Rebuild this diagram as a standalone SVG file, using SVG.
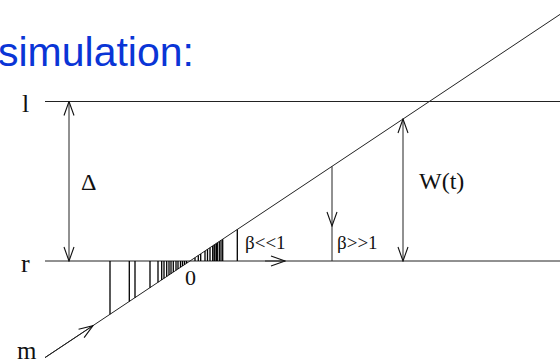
<svg xmlns="http://www.w3.org/2000/svg" width="560" height="364" viewBox="0 0 560 364">
<style>
.ln{stroke:#222;stroke-width:1;fill:none}
.h{stroke:#000;stroke-width:1.3;fill:none}
.t{font-family:"Liberation Serif","Times New Roman",serif;fill:#111}
.title{font-family:"Liberation Sans",Arial,sans-serif;fill:#0a35d6;font-size:41px}
</style>
<defs>
<marker id="ah" viewBox="0 0 16 12" refX="15" refY="6" markerWidth="16" markerHeight="12" markerUnits="userSpaceOnUse" orient="auto-start-reverse">
<path d="M1,1 L15,6 L1,11" fill="none" stroke="#111" stroke-width="1.1"/>
</marker>
</defs>
<rect width="560" height="364" fill="#fff"/>
<text class="title" x="-2" y="66">simulation:</text>
<g id="connectors">
<path class="ln" d="M45,101.5 H560"/>
<path class="ln" d="M45,261 H560"/>
<path class="ln" d="M45,357.6 L560,14.4"/>
<path class="ln" d="M45,357.6 L93,325.7" marker-end="url(#ah)"/>
<path class="ln" d="M265,261 H285" marker-end="url(#ah)"/>
<path class="ln" d="M69,101.5 V261" marker-start="url(#ah)" marker-end="url(#ah)"/>
<path class="ln" d="M403,119 V261" marker-start="url(#ah)" marker-end="url(#ah)"/>
<path class="ln" d="M332,166.4 V226" marker-end="url(#ah)"/>
<path class="ln" d="M332,226 V261"/>
<g id="hatch">
<path class="h" d="M110,261 V314.3 M129.3,261 V301.5 M135,261 V297.7 M150,261 V287.7 M158,261 V282.3 M161.7,261 V279.9 M164,261 V278.3 M166.7,261 V276.5 M169,261 V275 M171,261 V273.7 M173.3,261 V272.1 M176,261 V270.3 M178,261 V269 M180.5,261 V267.3 M182.5,261 V266 M184.5,261 V264.7 M186.5,261 V263.3"/>
<path class="h" d="M195,261 V257.7 M198.3,261 V255.5 M200.7,261 V253.9 M205,261 V251 M207.5,261 V249.3 M210,261 V247.7 M212.7,261 V245.9 M214.3,261 V244.8 M216,261 V243.7 M217.3,261 V242.8 M219.3,261 V241.5 M221,261 V240.3 M222.7,261 V239.2 M237.3,261 V229.5"/>
</g>
</g>
<g id="label-l"><text class="t" x="22" y="112" font-size="26">l</text></g>
<g id="label-r"><text class="t" x="21" y="272" font-size="26">r</text></g>
<g id="label-m"><text class="t" x="17" y="359" font-size="25">m</text></g>
<g id="label-delta"><text class="t" x="81" y="190" font-size="24">Δ</text></g>
<g id="label-w"><text class="t" x="419" y="189" font-size="24">W(t)</text></g>
<g id="label-0"><text class="t" x="185" y="285" font-size="22">0</text></g>
<g id="label-b1"><text class="t" x="245" y="249" font-size="19">β&lt;&lt;1</text></g>
<g id="label-b2"><text class="t" x="337" y="249" font-size="19">β&gt;&gt;1</text></g>
</svg>
